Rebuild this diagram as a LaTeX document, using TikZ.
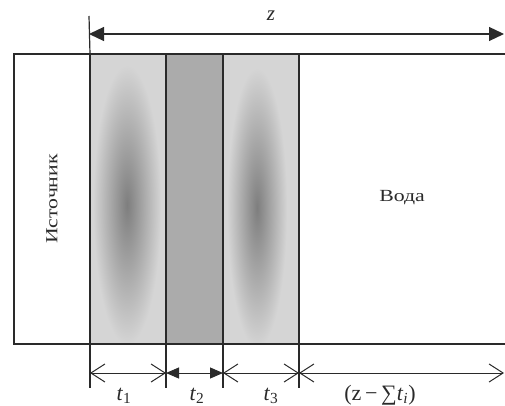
\documentclass[tikz,border=0pt]{standalone}
\usepackage{fontspec}
\setmainfont{Liberation Serif}
\newfontfamily\widefont[FakeStretch=1.28]{Liberation Serif}
\usetikzlibrary{arrows.meta}
\definecolor{slablight}{HTML}{D5D5D5}
\definecolor{slabdark}{HTML}{ABABAB}
\definecolor{spot}{HTML}{7E7E7E}
\definecolor{ink}{HTML}{2A2A2A}
\begin{document}
\begin{tikzpicture}[x=1pt,y=-1pt,line width=1.2pt,
  every node/.style={inner sep=0pt,outer sep=0pt},
  slab/.style={draw=ink,minimum width=#1,minimum height=290},
  lbl/.style={font=\widefont\fontsize{17}{19}\selectfont,text=ink},
  mlbl/.style={font=\fontsize{22}{24}\selectfont,text=ink},
  openarr/.style={draw=ink,line width=1pt,{Straight Barb[length=14pt,width=18pt]}-{Straight Barb[length=14pt,width=18pt]}},
  fillarr/.style={draw=ink,line width=1pt,{Triangle[length=13pt,width=11pt]}-{Triangle[length=13pt,width=11pt]}},
  bigarr/.style={draw=ink,line width=1.2pt,{Triangle[length=15pt,width=14pt]}-{Triangle[length=15pt,width=14pt]}},
  tick/.style={draw=ink,line width=1.2pt}]
\useasboundingbox (0,0) rectangle (505,406);
% slabs
\node[slab=76] (src) at (52,199) {};
\node[slab=76,fill=slablight] (s1) at (128,199) {};
\node[slab=57,fill=slabdark] (s2) at (194.5,199) {};
\node[slab=76,fill=slablight] (s3) at (261,199) {};
% blurred spots
\begin{scope}
  \clip (s1.north west) rectangle (s1.south east);
  \shade[inner color=spot,outer color=slablight] (127,205) ellipse [x radius=34,y radius=140];
\end{scope}
\begin{scope}
  \clip (s3.north west) rectangle (s3.south east);
  \shade[inner color=spot,outer color=slablight] (257,208) ellipse [x radius=30,y radius=140];
\end{scope}
\node[slab=76] at (s1) {};
\node[slab=76] at (s3) {};
% water region
\coordinate (wtr) at (505,54);
\coordinate (wbr) at (505,344);
\draw[ink] (s3.north east) -- (wtr);
\draw[ink] (s3.south east) -- (wbr);
\node[lbl] (water) at (402,198) {Вода};
\node[lbl,rotate=90] (srclbl) at (src.center) {Источник};
% z dimension
\coordinate (ztop) at (89,16);
\draw[tick] (s1.north west) -- (ztop);
\coordinate (za) at (89,34);
\coordinate (zb) at (504,34);
\draw[bigarr] (za) -- (zb);
\node[mlbl,font=\fontsize{21}{23}\selectfont\itshape] (zl) at (271,16) {z};
% bottom ticks
\coordinate (k0) at (90,388);
\coordinate (k1) at (166,388);
\coordinate (k2) at (223,388);
\coordinate (k3) at (299,388);
\draw[tick] (s1.south west) -- (k0);
\draw[tick] (s2.south west) -- (k1);
\draw[tick] (s2.south east) -- (k2);
\draw[tick] (s3.south east) -- (k3);
\coordinate (a0) at (90,373);
\coordinate (a1) at (166,373);
\coordinate (a2) at (223,373);
\coordinate (a3) at (299,373);
\coordinate (a4) at (504,373);
\draw[openarr] (a0) -- (a1);
\draw[fillarr] (a1) -- (a2);
\draw[openarr] (a2) -- (a3);
\draw[openarr] (a3) -- (a4);
\node[mlbl] (t1) at (124,396) {\textit{t}\textsubscript{1}};
\node[mlbl] (t2) at (197,396) {\textit{t}\textsubscript{2}};
\node[mlbl] (t3) at (271,396) {\textit{t}\textsubscript{3}};
\node[mlbl] (rest) at (380,395) {(z\,−\,∑\textit{t}\textsubscript{\textit{i}})};
\end{tikzpicture}
\end{document}
